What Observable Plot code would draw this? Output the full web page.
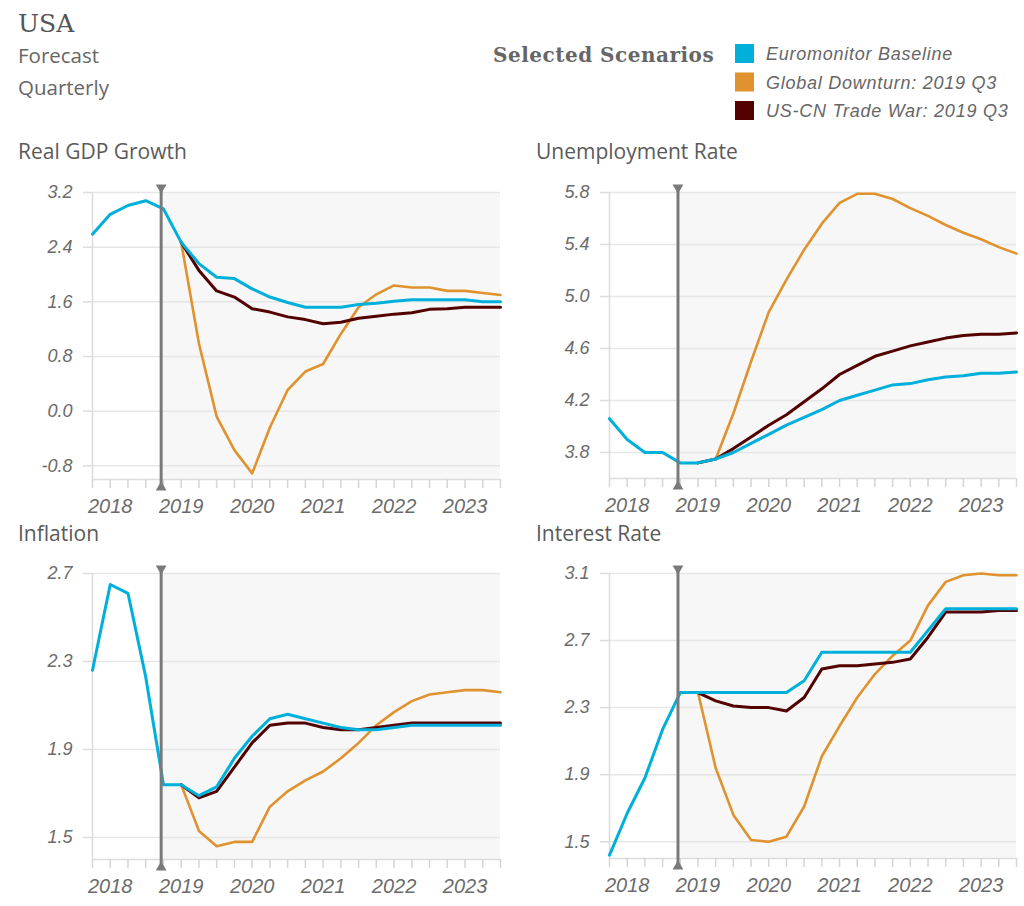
<!DOCTYPE html>
<html>
<head>
<meta charset="utf-8">
<script src="https://cdn.jsdelivr.net/npm/d3@7"></script>
<script src="https://cdn.jsdelivr.net/npm/@observablehq/plot@0.6"></script>
<style>
  body { margin: 0; background: #fff; }
  #page { position: relative; width: 1024px; height: 906px; overflow: hidden; background: #fff; }
  #header { position: absolute; left: 0; top: 0; }
  .panel { position: absolute; }
  .panel svg { overflow: visible; }
</style>
</head>
<body>
<div id="page">
  <svg id="header" width="1024" height="906"></svg>
</div>
<script>
// ---------------- DATA ----------------
const quarters = [
  "2017 Q4",
  "2018 Q1", "2018 Q2", "2018 Q3", "2018 Q4",
  "2019 Q1", "2019 Q2", "2019 Q3", "2019 Q4",
  "2020 Q1", "2020 Q2", "2020 Q3", "2020 Q4",
  "2021 Q1", "2021 Q2", "2021 Q3", "2021 Q4",
  "2022 Q1", "2022 Q2", "2022 Q3", "2022 Q4",
  "2023 Q1", "2023 Q2", "2023 Q3"
];
const forecastStart = 3.87; // position of the history/forecast divider (in quarter index units)

const scenarioNames = ["Euromonitor Baseline", "Global Downturn: 2019 Q3", "US-CN Trade War: 2019 Q3"];
const scenarioColors = ["#00afda", "#e0922e", "#520000"];

const panelTitles = ["Real GDP Growth", "Unemployment Rate", "Inflation", "Interest Rate"];

// Real GDP Growth
const gdpBaseline = [2.59, 2.88, 3.01, 3.08, 2.96, 2.47, 2.16, 1.96, 1.94, 1.79, 1.67, 1.59, 1.52, 1.52, 1.52, 1.56, 1.58, 1.61, 1.63, 1.63, 1.63, 1.63, 1.60, 1.60];
const gdpDownturn = [null, null, null, null, null, 2.47, 0.99, -0.08, -0.57, -0.91, -0.24, 0.31, 0.58, 0.69, 1.13, 1.52, 1.71, 1.84, 1.81, 1.81, 1.76, 1.76, 1.73, 1.70];
const gdpTradeWar = [null, null, null, null, null, 2.47, 2.06, 1.76, 1.67, 1.50, 1.45, 1.38, 1.34, 1.28, 1.30, 1.36, 1.39, 1.42, 1.44, 1.49, 1.50, 1.52, 1.52, 1.52];
const gdpTicks = [-0.8, 0.0, 0.8, 1.6, 2.4, 3.2];
const gdpDomain = [-1.0, 3.2];

// Unemployment Rate
const unempBaseline = [4.06, 3.90, 3.80, 3.80, 3.72, 3.72, 3.75, 3.80, 3.87, 3.94, 4.01, 4.07, 4.13, 4.20, 4.24, 4.28, 4.32, 4.33, 4.36, 4.38, 4.39, 4.41, 4.41, 4.42];
const unempDownturn = [null, null, null, null, null, 3.72, 3.75, 4.10, 4.50, 4.88, 5.13, 5.36, 5.56, 5.72, 5.79, 5.79, 5.75, 5.68, 5.62, 5.55, 5.49, 5.44, 5.38, 5.33];
const unempTradeWar = [null, null, null, null, null, 3.72, 3.75, 3.83, 3.92, 4.01, 4.09, 4.19, 4.29, 4.40, 4.47, 4.54, 4.58, 4.62, 4.65, 4.68, 4.70, 4.71, 4.71, 4.72];
const unempTicks = [3.8, 4.2, 4.6, 5.0, 5.4, 5.8];
const unempDomain = [3.6, 5.8];

// Inflation
const inflBaseline = [2.26, 2.65, 2.61, 2.23, 1.74, 1.74, 1.69, 1.73, 1.86, 1.96, 2.04, 2.06, 2.04, 2.02, 2.00, 1.99, 1.99, 2.00, 2.01, 2.01, 2.01, 2.01, 2.01, 2.01];
const inflDownturn = [null, null, null, null, null, 1.74, 1.53, 1.46, 1.48, 1.48, 1.64, 1.71, 1.76, 1.80, 1.86, 1.93, 2.01, 2.07, 2.12, 2.15, 2.16, 2.17, 2.17, 2.16];
const inflTradeWar = [null, null, null, null, null, 1.74, 1.68, 1.71, 1.82, 1.93, 2.01, 2.02, 2.02, 2.00, 1.99, 1.99, 2.00, 2.01, 2.02, 2.02, 2.02, 2.02, 2.02, 2.02];
const inflTicks = [1.5, 1.9, 2.3, 2.7];
const inflDomain = [1.4, 2.7];

// Interest Rate
const rateBaseline = [1.42, 1.67, 1.88, 2.17, 2.39, 2.39, 2.39, 2.39, 2.39, 2.39, 2.39, 2.46, 2.63, 2.63, 2.63, 2.63, 2.63, 2.63, 2.76, 2.89, 2.89, 2.89, 2.89, 2.89];
const rateDownturn = [null, null, null, null, null, 2.39, 1.94, 1.66, 1.51, 1.50, 1.53, 1.71, 2.01, 2.19, 2.36, 2.50, 2.61, 2.70, 2.91, 3.05, 3.09, 3.10, 3.09, 3.09];
const rateTradeWar = [null, null, null, null, null, 2.39, 2.34, 2.31, 2.30, 2.30, 2.28, 2.36, 2.53, 2.55, 2.55, 2.56, 2.57, 2.59, 2.72, 2.87, 2.87, 2.87, 2.88, 2.88];
const rateTicks = [1.5, 1.9, 2.3, 2.7, 3.1];
const rateDomain = [1.4, 3.1];

// ---------------- HEADER ----------------
const NS = "http://www.w3.org/2000/svg";
const header = document.getElementById("header");
function addText(str, x, y, attrs) {
  const t = document.createElementNS(NS, "text");
  t.setAttribute("x", x); t.setAttribute("y", y);
  for (const k in attrs) t.setAttribute(k, attrs[k]);
  t.textContent = str;
  header.appendChild(t);
  return t;
}
addText("USA", 18, 32, {"font-family": "DejaVu Serif", "font-size": 25, fill: "#555"});
addText("Forecast", 18, 63, {"font-family": "Open Sans", "font-size": 20.5, fill: "#666"});
addText("Quarterly", 18, 95, {"font-family": "Open Sans", "font-size": 20.5, fill: "#666"});
addText("Selected Scenarios", 493, 62, {"font-family": "DejaVu Serif", "font-size": 20, "font-weight": "bold", "letter-spacing": "0.5", fill: "#666"});
scenarioNames.forEach((name, i) => {
  const r = document.createElementNS(NS, "rect");
  const y = 44 + i * 28.5;
  r.setAttribute("x", 735); r.setAttribute("y", y);
  r.setAttribute("width", 19); r.setAttribute("height", 19);
  r.setAttribute("fill", scenarioColors[i]);
  header.appendChild(r);
  addText(name, 766, y + 16, {"font-family": "Liberation Sans", "font-style": "italic", "font-size": 18, "letter-spacing": "0.75", fill: "#666"});
});
const titlePos = [[18, 159], [536, 159], [18, 541], [536, 541]];
panelTitles.forEach((t, i) => addText(t, titlePos[i][0], titlePos[i][1], {"font-family": "Open Sans", "font-size": 21, fill: "#5a5a5a"}));

// ---------------- PANELS ----------------
const page = document.getElementById("page");
const qIdx = quarters.map((q, i) => i);
const yearIdx = qIdx.filter(i => quarters[i].endsWith("Q1"));
const lastIdx = quarters.length - 1;
const rowsOf = s => s.map((v, i) => ({q: i, v})).filter(d => d.v != null);

function panel(series, domain, ticks, box) {
  const [base, down, trade] = series;
  const chart = Plot.plot({
    width: box.width, height: box.height,
    marginLeft: box.mL, marginRight: box.mR, marginTop: box.mT, marginBottom: box.mB,
    x: {domain: [0, lastIdx], label: null},
    y: {domain, label: null},
    style: {fontFamily: "Liberation Sans, Arial, sans-serif", fontStyle: "italic", fontSize: "18px", color: "#6b6b6b", background: "transparent", overflow: "visible"},
    marks: [
      Plot.rect([{x1: forecastStart, x2: lastIdx}], {x1: "x1", x2: "x2", fill: "#f7f7f7"}),
      Plot.ruleY(ticks, {stroke: "#e6e6e6", strokeWidth: 1.5}),
      Plot.ruleY([domain[0]], {stroke: "#dcdcdc", strokeWidth: 1.5}),
      Plot.ruleX([0], {stroke: "#dcdcdc", strokeWidth: 1.5}),
      Plot.axisY(ticks, {label: null, tickSize: 9, tickPadding: 11, stroke: "#dcdcdc", strokeWidth: 1.5, fill: "#6b6b6b", fontSize: 18, tickFormat: d => d.toFixed(1)}),
      Plot.axisX(qIdx, {label: null, tickSize: 9, stroke: "#d5d5d5", strokeWidth: 1.5, tickFormat: () => ""}),
      Plot.axisX(yearIdx, {label: null, tickSize: 0, tickPadding: 19, fill: "#6b6b6b", fontSize: 20, tickFormat: i => quarters[i].slice(0, 4)}),
      Plot.line(rowsOf(down), {x: "q", y: "v", stroke: scenarioColors[1], strokeWidth: 2.6}),
      Plot.line(rowsOf(trade), {x: "q", y: "v", stroke: scenarioColors[2], strokeWidth: 3}),
      Plot.line(rowsOf(base), {x: "q", y: "v", stroke: scenarioColors[0], strokeWidth: 3}),
      Plot.ruleX([forecastStart], {stroke: "#7a7a7a", strokeWidth: 3, insetTop: -7, insetBottom: -10}),
      Plot.dot([forecastStart], {x: d => d, frameAnchor: "top", symbol: "triangle", r: 4, fill: "#7a7a7a", rotate: 180, dy: -5}),
      Plot.dot([forecastStart], {x: d => d, frameAnchor: "bottom", symbol: "triangle", r: 4, fill: "#7a7a7a", dy: 8})
    ]
  });
  const div = document.createElement("div");
  div.className = "panel";
  div.style.left = box.left + "px";
  div.style.top = box.top + "px";
  div.appendChild(chart);
  page.appendChild(div);
}

const leftBox = {left: 0, width: 510, mL: 92, mR: 10};
const rightBox = {left: 510, width: 514, mL: 99, mR: 8};
const topBox = {top: 170, height: 349, mT: 22, mB: 40};
const botBox = {top: 550, height: 356, mT: 23, mB: 47};

panel([gdpBaseline, gdpDownturn, gdpTradeWar], gdpDomain, gdpTicks, {...leftBox, ...topBox});
panel([unempBaseline, unempDownturn, unempTradeWar], unempDomain, unempTicks, {...rightBox, ...topBox, mB: 41});
panel([inflBaseline, inflDownturn, inflTradeWar], inflDomain, inflTicks, {...leftBox, ...botBox});
panel([rateBaseline, rateDownturn, rateTradeWar], rateDomain, rateTicks, {...rightBox, ...botBox, mB: 48});
</script>
</body>
</html>
